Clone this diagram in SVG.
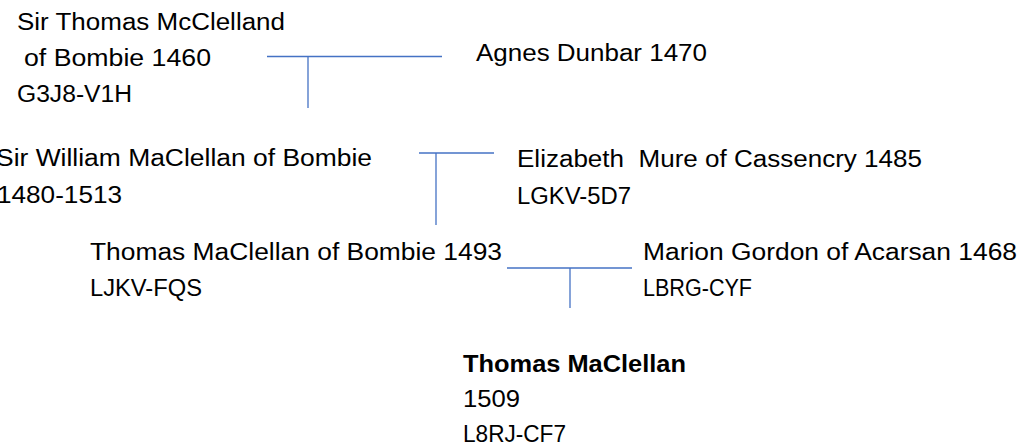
<svg xmlns="http://www.w3.org/2000/svg" width="1030" height="448" viewBox="0 0 1030 448">
<style>
text{font-family:"Liberation Sans",Arial,sans-serif;font-size:23px;fill:#000;white-space:pre}
.b{font-weight:bold}
.c line{stroke:#4472C4;stroke-width:1.3}
</style>
<rect width="1030" height="448" fill="#fff"/>
<g class="c" id="connectors">
<line x1="267" y1="56.5" x2="442" y2="56.5"/>
<line x1="308" y1="56.5" x2="308" y2="108"/>
<line x1="419" y1="153" x2="494" y2="153"/>
<line x1="436" y1="153" x2="436" y2="225"/>
<line x1="507" y1="268" x2="632" y2="268"/>
<line x1="570" y1="268" x2="570" y2="308"/>
</g>
<g id="n-thomas-sr">
<text x="17" y="30" textLength="268" lengthAdjust="spacingAndGlyphs">Sir Thomas McClelland</text>
<text x="24" y="66" textLength="187" lengthAdjust="spacingAndGlyphs">of Bombie 1460</text>
<text x="17" y="102" textLength="115" lengthAdjust="spacingAndGlyphs">G3J8-V1H</text>
</g>
<g id="n-agnes">
<text x="476" y="61" textLength="231" lengthAdjust="spacingAndGlyphs">Agnes Dunbar 1470</text>
</g>
<g id="n-william">
<text x="-4" y="166" textLength="376" lengthAdjust="spacingAndGlyphs">Sir William MaClellan of Bombie</text>
<text x="-3" y="203" textLength="125" lengthAdjust="spacingAndGlyphs">1480-1513</text>
</g>
<g id="n-elizabeth">
<text x="517" y="167" textLength="405" lengthAdjust="spacingAndGlyphs" xml:space="preserve">Elizabeth  Mure of Cassencry 1485</text>
<text x="517" y="204" textLength="114" lengthAdjust="spacingAndGlyphs">LGKV-5D7</text>
</g>
<g id="n-thomas">
<text x="90" y="260" textLength="412" lengthAdjust="spacingAndGlyphs">Thomas MaClellan of Bombie 1493</text>
<text x="90" y="296" textLength="112" lengthAdjust="spacingAndGlyphs">LJKV-FQS</text>
</g>
<g id="n-marion">
<text x="643" y="260" textLength="374" lengthAdjust="spacingAndGlyphs">Marion Gordon of Acarsan 1468</text>
<text x="643" y="296" textLength="109" lengthAdjust="spacingAndGlyphs">LBRG-CYF</text>
</g>
<g id="n-child">
<text class="b" x="463" y="372" textLength="223" lengthAdjust="spacingAndGlyphs">Thomas MaClellan</text>
<text x="463" y="407" textLength="57" lengthAdjust="spacingAndGlyphs">1509</text>
<text x="463" y="442" textLength="103" lengthAdjust="spacingAndGlyphs">L8RJ-CF7</text>
</g>
</svg>
